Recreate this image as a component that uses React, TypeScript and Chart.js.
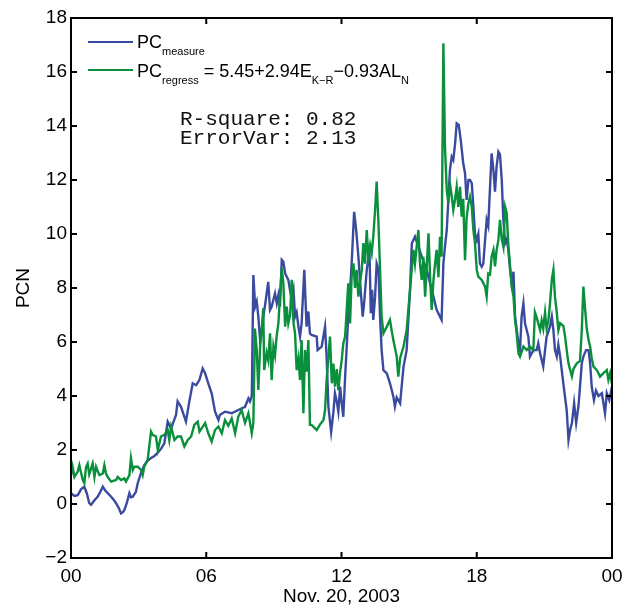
import React, { useEffect, useRef } from 'react';
import { Chart, registerables } from 'chart.js';

Chart.register(...registerables);

// ---------- data (hours after 00 UT, Nov. 20, 2003) ----------
const measureHours = [
  0.00, 0.15, 0.30, 0.45, 0.59, 0.70, 0.81, 0.89, 1.05, 1.18,
  1.30, 1.41, 1.52, 1.63, 1.78, 1.90, 2.00, 2.12, 2.22, 2.30,
  2.37, 2.48, 2.59, 2.66, 2.74, 2.88, 2.96, 3.10, 3.25, 3.40,
  3.55, 3.70, 3.85, 4.00, 4.14, 4.29, 4.44, 4.55, 4.66, 4.73,
  4.88, 5.00, 5.10, 5.25, 5.40, 5.55, 5.70, 5.84, 5.95, 6.09,
  6.24, 6.39, 6.54, 6.60, 6.83, 7.13, 7.42, 7.72, 7.87, 7.94,
  8.02, 8.09, 8.17, 8.24, 8.31, 8.39, 8.46, 8.53, 8.61, 8.75,
  8.83, 8.90, 9.05, 9.13, 9.20, 9.27, 9.35, 9.42, 9.50, 9.64,
  9.79, 9.87, 9.94, 10.01, 10.09, 10.16, 10.23, 10.35, 10.45, 10.53,
  10.60, 10.67, 10.90, 10.94, 11.12, 11.27, 11.34, 11.42, 11.54, 11.64,
  11.71, 11.79, 11.86, 11.94, 12.01, 12.08, 12.16, 12.23, 12.30, 12.38,
  12.45, 12.56, 12.65, 12.75, 12.85, 12.94, 13.00, 13.12, 13.24, 13.30,
  13.36, 13.41, 13.49, 13.56, 13.64, 13.71, 13.78, 13.86, 14.01, 14.15,
  14.30, 14.37, 14.45, 14.60, 14.75, 14.89, 15.04, 15.12, 15.26, 15.41,
  15.56, 15.78, 15.93, 16.08, 16.22, 16.37, 16.44, 16.52, 16.59, 16.67,
  16.81, 16.89, 16.96, 17.04, 17.11, 17.20, 17.29, 17.40, 17.48, 17.55,
  17.63, 17.70, 17.78, 17.85, 17.92, 18.00, 18.07, 18.14, 18.22, 18.29,
  18.37, 18.44, 18.51, 18.59, 18.66, 18.74, 18.81, 18.88, 18.96, 19.03,
  19.11, 19.18, 19.26, 19.33, 19.40, 19.48, 19.55, 19.63, 19.70, 19.85,
  19.92, 19.99, 20.07, 20.14, 20.29, 20.36, 20.51, 20.66, 20.73, 20.81,
  20.95, 21.03, 21.10, 21.25, 21.33, 21.40, 21.47, 21.55, 21.62, 21.70,
  21.84, 21.99, 22.07, 22.14, 22.22, 22.32, 22.41, 22.51, 22.58, 22.66,
  22.73, 22.85, 22.96, 23.03, 23.10, 23.20, 23.29, 23.40, 23.55, 23.69,
  23.77, 23.88, 24.00,
];
const measureValues = [
  0.40, 0.30, 0.33, 0.55, 0.64, 0.40, 0.03, -0.03, 0.15, 0.27,
  0.45, 0.64, 0.50, 0.40, 0.27, 0.15, 0.03, -0.15, -0.35, -0.30,
  -0.22, 0.05, 0.40, 0.25, 0.27, 0.45, 0.77, 1.13, 1.44, 1.60,
  1.70, 1.78, 1.90, 2.05, 2.25, 3.05, 2.80, 3.05, 3.30, 3.80,
  3.60, 3.30, 3.05, 3.80, 4.47, 4.40, 4.60, 5.02, 4.84, 4.47,
  4.10, 3.42, 3.11, 3.30, 3.42, 3.36, 3.48, 3.60, 3.91, 3.80,
  4.00, 8.48, 7.31, 7.50, 6.94, 6.07, 6.44, 6.94, 7.37, 8.23,
  7.19, 7.30, 7.80, 7.43, 7.74, 7.31, 9.04, 8.97, 8.54, 8.30,
  7.56, 7.93, 6.94, 7.10, 6.57, 6.20, 6.69, 8.67, 6.57, 7.13,
  6.32, 6.26, 6.20, 5.70, 5.83, 6.57, 5.46, 3.60, 2.67, 3.40,
  4.10, 3.80, 3.42, 4.35, 3.73, 3.23, 4.70, 5.80, 7.00, 7.90,
  8.90, 10.82, 10.15, 9.16, 7.93, 6.94, 7.40, 8.67, 9.41, 7.07,
  7.93, 6.82, 7.68, 8.91, 8.70, 6.94, 5.70, 4.96, 4.84, 4.47,
  3.98, 3.61, 3.95, 3.73, 5.08, 5.70, 7.93, 9.66, 9.90, 9.53,
  9.16, 8.67, 8.17, 7.68, 7.19, 6.94, 6.82, 8.91, 9.53, 10.15,
  12.37, 12.86, 12.74, 13.36, 14.10, 14.04, 13.48, 12.62, 12.25, 11.26,
  12.00, 12.00, 11.88, 11.00, 10.02, 9.78, 10.00, 8.91, 8.79, 8.90,
  9.78, 10.52, 10.30, 11.75, 12.99, 12.37, 11.57, 12.49, 13.05, 12.95,
  12.00, 10.52, 9.66, 9.80, 9.41, 8.67, 8.17, 8.60, 6.94, 5.95,
  5.70, 6.94, 7.43, 6.69, 6.20, 5.46, 5.70, 5.70, 5.95, 5.58,
  5.09, 5.70, 6.20, 6.57, 6.94, 6.44, 5.70, 5.46, 5.90, 5.46,
  4.47, 3.48, 2.37, 2.74, 2.99, 3.73, 3.00, 3.61, 4.35, 5.21,
  5.46, 5.70, 5.70, 5.21, 4.35, 3.85, 4.20, 4.00, 4.10, 3.36,
  4.10, 3.85, 4.35,
];

const regressHours = [
  0.00, 0.07, 0.15, 0.30, 0.37, 0.52, 0.59, 0.67, 0.74, 0.81,
  0.96, 1.04, 1.11, 1.26, 1.41, 1.48, 1.55, 1.63, 1.78, 2.00,
  2.07, 2.22, 2.37, 2.44, 2.59, 2.66, 2.74, 2.81, 2.96, 3.11,
  3.18, 3.25, 3.40, 3.55, 3.62, 3.77, 3.85, 3.99, 4.14, 4.29,
  4.36, 4.44, 4.59, 4.73, 4.88, 5.03, 5.18, 5.33, 5.47, 5.62,
  5.70, 5.84, 5.95, 6.09, 6.24, 6.39, 6.54, 6.69, 6.83, 6.98,
  7.13, 7.28, 7.42, 7.57, 7.72, 7.87, 8.02, 8.09, 8.16, 8.24,
  8.31, 8.39, 8.46, 8.53, 8.57, 8.68, 8.75, 8.83, 8.90, 8.98,
  9.05, 9.12, 9.20, 9.27, 9.35, 9.42, 9.50, 9.57, 9.64, 9.72,
  9.79, 9.87, 9.94, 10.01, 10.09, 10.16, 10.23, 10.31, 10.38, 10.45,
  10.53, 10.60, 10.67, 10.90, 11.05, 11.20, 11.27, 11.34, 11.42, 11.49,
  11.57, 11.64, 11.71, 11.79, 11.86, 11.94, 12.01, 12.08, 12.16, 12.23,
  12.30, 12.38, 12.45, 12.53, 12.60, 12.67, 12.75, 12.82, 12.90, 12.97,
  13.04, 13.12, 13.19, 13.27, 13.34, 13.41, 13.49, 13.56, 13.64, 13.71,
  13.78, 13.86, 14.01, 14.15, 14.23, 14.30, 14.45, 14.52, 14.60, 14.75,
  14.89, 15.04, 15.19, 15.26, 15.41, 15.48, 15.56, 15.63, 15.71, 15.86,
  15.93, 16.00, 16.08, 16.15, 16.22, 16.30, 16.37, 16.44, 16.52, 16.59,
  16.67, 16.74, 16.81, 16.89, 16.96, 17.04, 17.11, 17.18, 17.26, 17.33,
  17.40, 17.48, 17.55, 17.63, 17.70, 17.78, 17.85, 17.92, 18.00, 18.07,
  18.22, 18.37, 18.44, 18.51, 18.59, 18.66, 18.74, 18.81, 18.88, 18.96,
  19.03, 19.11, 19.18, 19.26, 19.33, 19.40, 19.48, 19.55, 19.63, 19.70,
  19.77, 19.85, 19.92, 20.07, 20.22, 20.36, 20.51, 20.58, 20.66, 20.73,
  20.81, 20.88, 20.95, 21.03, 21.10, 21.18, 21.25, 21.33, 21.40, 21.47,
  21.55, 21.62, 21.70, 21.84, 21.92, 21.99, 22.07, 22.22, 22.29, 22.44,
  22.58, 22.66, 22.73, 22.81, 22.88, 22.96, 23.03, 23.10, 23.18, 23.33,
  23.47, 23.62, 23.77, 23.84, 23.92, 23.99,
];
const regressValues = [
  1.07, 1.38, 1.00, 1.20, 1.44, 0.89, 0.77, 1.38, 1.50, 1.10,
  1.50, 1.00, 1.38, 1.07, 1.13, 1.44, 1.13, 1.00, 0.83, 0.89,
  1.00, 0.89, 0.95, 0.83, 1.07, 1.70, 1.26, 1.38, 1.38, 1.26,
  1.07, 1.38, 1.63, 2.68, 2.56, 2.50, 2.00, 2.50, 2.56, 2.74,
  2.37, 2.86, 2.37, 2.50, 2.50, 2.13, 2.37, 2.50, 2.93, 3.05,
  2.68, 2.86, 3.00, 2.62, 2.31, 2.74, 2.87, 2.62, 3.11, 2.90,
  3.17, 2.62, 3.23, 3.48, 3.00, 3.36, 2.62, 3.00, 6.50, 5.70,
  4.22, 5.83, 6.44, 7.25, 4.96, 5.60, 5.33, 6.32, 4.59, 5.83,
  5.50, 6.20, 6.69, 7.68, 8.73, 8.17, 6.57, 7.31, 6.69, 7.00,
  8.30, 6.70, 6.32, 4.96, 5.40, 4.59, 6.07, 3.36, 5.70, 4.90,
  6.07, 2.93, 2.93, 2.74, 2.95, 3.11, 3.48, 4.59, 5.46, 6.20,
  4.47, 5.20, 4.35, 5.00, 4.22, 4.90, 5.33, 5.95, 6.20, 7.18,
  8.17, 6.69, 8.42, 8.91, 8.00, 8.67, 7.68, 8.20, 8.67, 9.66,
  8.90, 10.15, 9.16, 9.60, 9.30, 9.90, 10.89, 11.94, 10.40, 8.67,
  6.94, 6.32, 6.57, 6.82, 6.40, 6.07, 5.46, 4.72, 5.40, 5.83,
  6.44, 7.93, 9.41, 8.90, 10.15, 8.91, 8.30, 9.16, 7.68, 10.03,
  8.40, 7.19, 8.30, 8.90, 9.41, 8.40, 9.90, 9.16, 17.06, 13.23,
  11.63, 11.14, 11.88, 11.40, 10.89, 11.30, 11.75, 11.00, 11.75, 10.64,
  11.30, 9.03, 10.60, 11.14, 11.38, 11.00, 10.15, 9.66, 8.67, 8.42,
  8.30, 8.05, 7.68, 8.54, 8.50, 9.16, 9.41, 8.80, 9.40, 9.78,
  10.52, 9.80, 9.53, 11.00, 10.77, 9.60, 8.79, 8.05, 7.68, 6.82,
  6.32, 5.58, 5.46, 5.83, 5.70, 5.83, 5.70, 7.10, 6.90, 6.69,
  6.44, 6.80, 6.50, 7.10, 6.50, 6.80, 7.43, 8.30, 8.67, 7.68,
  7.10, 6.44, 6.70, 6.60, 6.20, 5.70, 5.21, 4.72, 5.00, 5.21,
  5.30, 6.44, 8.05, 7.19, 6.50, 6.07, 5.83, 5.40, 5.09, 4.96,
  4.72, 4.85, 4.96, 4.60, 4.85, 4.47,
];

const xTickValues = [0, 6, 12, 18, 24];
const xTickLabels = ['00', '06', '12', '18', '00'];
const yTickValues = [-2, 0, 2, 4, 6, 8, 10, 12, 14, 16, 18];
const xTitle = 'Nov. 20, 2003';
const yTitle = 'PCN';
const statsLines = ['R-square: 0.82', 'ErrorVar: 2.13'];

const BLUE = '#3a4b9f';
const GREEN = '#0a8f3c';
const SANS = "'Liberation Sans', Arial, Helvetica, sans-serif";
const MONO = "'Liberation Mono', 'Courier New', monospace";

type Seg = { t: string; sub?: boolean };
const legendMeasure: Seg[] = [{ t: 'PC' }, { t: 'measure', sub: true }];
const legendRegress: Seg[] = [
  { t: 'PC' }, { t: 'regress', sub: true }, { t: ' = 5.45+2.94E' },
  { t: 'K\u2212R', sub: true }, { t: '\u22120.93AL' }, { t: 'N', sub: true },
];

function drawSegs(ctx: CanvasRenderingContext2D, segs: Seg[], x: number, baseline: number) {
  let cx = x;
  for (const s of segs) {
    ctx.font = s.sub ? `11px ${SANS}` : `18px ${SANS}`;
    ctx.fillText(s.t, cx, s.sub ? baseline + 7 : baseline);
    cx += ctx.measureText(s.t).width;
  }
}

const overlay = {
  id: 'overlay',
  afterDraw(chart: any) {
    const { ctx, chartArea: a, scales } = chart;
    const xs = scales.x;
    const ys = scales.y;
    ctx.save();
    ctx.strokeStyle = '#000';
    ctx.lineWidth = 2;
    ctx.strokeRect(a.left, a.top, a.right - a.left, a.bottom - a.top);
    const L = 6;
    ctx.beginPath();
    for (const v of xTickValues) {
      const px = xs.getPixelForValue(v);
      ctx.moveTo(px, a.bottom); ctx.lineTo(px, a.bottom - L);
      ctx.moveTo(px, a.top); ctx.lineTo(px, a.top + L);
    }
    for (const v of yTickValues) {
      const py = ys.getPixelForValue(v);
      ctx.moveTo(a.left, py); ctx.lineTo(a.left + L, py);
      ctx.moveTo(a.right, py); ctx.lineTo(a.right - L, py);
    }
    ctx.stroke();

    // legend
    ctx.lineWidth = 2.2;
    ctx.strokeStyle = BLUE;
    ctx.beginPath(); ctx.moveTo(a.left + 17, a.top + 24); ctx.lineTo(a.left + 62, a.top + 24); ctx.stroke();
    ctx.strokeStyle = GREEN;
    ctx.beginPath(); ctx.moveTo(a.left + 17, a.top + 52); ctx.lineTo(a.left + 62, a.top + 52); ctx.stroke();
    ctx.fillStyle = '#000';
    ctx.textBaseline = 'alphabetic';
    ctx.textAlign = 'left';
    drawSegs(ctx, legendMeasure, a.left + 66, a.top + 30);
    drawSegs(ctx, legendRegress, a.left + 66, a.top + 59);

    // stats
    ctx.font = `21px ${MONO}`;
    ctx.fillStyle = '#111';
    statsLines.forEach((s, i) => ctx.fillText(s, a.left + 109, a.top + 107 + i * 19));
    ctx.restore();
  },
};

export default function App() {
  const ref = useRef<HTMLCanvasElement | null>(null);
  useEffect(() => {
    if (!ref.current) return;
    const tickFont = { family: SANS, size: 19 };
    const chart = new Chart(ref.current, {
      type: 'line',
      data: {
        datasets: [
          {
            label: 'PC measure',
            data: measureHours.map((h, i) => ({ x: h, y: measureValues[i] })),
            borderColor: BLUE,
            backgroundColor: BLUE,
            borderWidth: 2.4,
            pointRadius: 0,
            tension: 0,
            order: 1,
          },
          {
            label: 'PC regress',
            data: regressHours.map((h, i) => ({ x: h, y: regressValues[i] })),
            borderColor: GREEN,
            backgroundColor: GREEN,
            borderWidth: 2.4,
            pointRadius: 0,
            tension: 0,
            order: 0,
          },
        ],
      },
      options: {
        responsive: false,
        animation: false,
        devicePixelRatio: 1,
        layout: { padding: { left: 0, right: 19, top: 18, bottom: 0 } },
        plugins: { legend: { display: false }, tooltip: { enabled: false } },
        scales: {
          x: {
            type: 'linear',
            min: 0,
            max: 24,
            grid: { display: false, drawTicks: false },
            border: { display: false },
            ticks: {
              padding: 7,
              color: '#000',
              font: tickFont,
              maxRotation: 0,
              autoSkip: false,
              callback: (v: any) => {
                const i = xTickValues.indexOf(Number(v));
                return i >= 0 ? xTickLabels[i] : '';
              },
            },
            afterBuildTicks: (s: any) => { s.ticks = xTickValues.map((v) => ({ value: v })); },
            afterFit: (s: any) => { s.height = 51; s.paddingLeft = 0; s.paddingRight = 0; },
            title: { display: true, text: xTitle, color: '#000', font: tickFont, padding: { top: 0, bottom: 1 } },
          },
          y: {
            type: 'linear',
            min: -2,
            max: 18,
            grid: { display: false, drawTicks: false },
            border: { display: false },
            ticks: {
              padding: 4,
              color: '#000',
              font: tickFont,
              autoSkip: false,
              callback: (v: any) => {
                const n = Number(v);
                return n < 0 ? '\u2212' + Math.abs(n) : String(n);
              },
            },
            afterBuildTicks: (s: any) => { s.ticks = yTickValues.map((v) => ({ value: v })); },
            afterFit: (s: any) => { s.width = 71; s.paddingTop = 0; s.paddingBottom = 0; },
            title: { display: true, text: yTitle, color: '#000', font: tickFont, padding: { top: 12, bottom: 0 } },
          },
        },
      },
      plugins: [overlay],
    } as any);
    return () => chart.destroy();
  }, []);
  return (
    <div style={{ position: 'absolute', left: 0, top: 0, width: 631, height: 609, background: '#fff' }}>
      <canvas ref={ref} width={631} height={609} style={{ display: 'block' }} />
    </div>
  );
}
